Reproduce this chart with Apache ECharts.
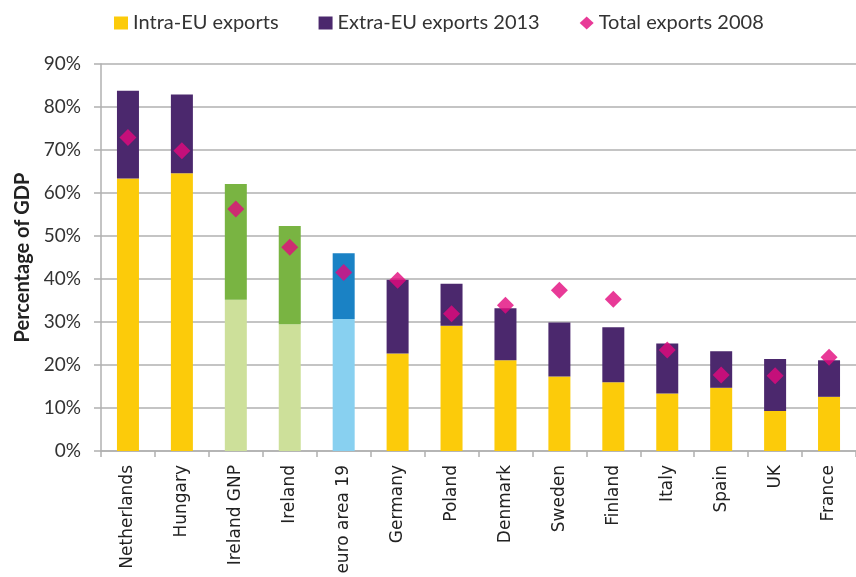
<!DOCTYPE html>
<html>
<head>
<meta charset="utf-8">
<script src="https://cdn.jsdelivr.net/npm/echarts@6/dist/echarts.min.js"></script>
<style>
  html, body { margin: 0; padding: 0; background: #fff; }
  #chart { width: 856px; height: 577px; }
</style>
</head>
<body>
<div id="chart"></div>
<script>
// values, % of GDP
const categories = ["Netherlands", "Hungary", "Ireland GNP", "Ireland", "euro area 19", "Germany", "Poland", "Denmark", "Sweden", "Finland", "Italy", "Spain", "UK", "France"];
const intraEU = [63.4, 64.6, 35.2, 29.5, 30.7, 22.7, 29.1, 21.1, 17.3, 16.0, 13.4, 14.7, 9.3, 12.6];
const extraEU = [20.4, 18.3, 26.9, 22.8, 15.3, 17.1, 9.8, 12.1, 12.6, 12.8, 11.6, 8.5, 12.1, 8.5];
const total2008 = [72.9, 69.8, 56.3, 47.4, 41.5, 39.7, 31.9, 33.9, 37.4, 35.3, 23.5, 17.7, 17.5, 21.8];
const yTicks = [0, 10, 20, 30, 40, 50, 60, 70, 80, 90];

// special colouring for the Irish and euro area bars
const intraColors = { "Ireland GNP": "#cde09a", "Ireland": "#cde09a", "euro area 19": "#88d0f0" };
const extraColors = { "Ireland GNP": "#79b442", "Ireland": "#79b442", "euro area 19": "#1a82c5" };

const gridColor = "#b0b0b0";
const myChart = echarts.init(document.getElementById("chart"));

const option = {
  animation: false,
  legend: {
    top: 8,
    left: 109,
    itemWidth: 14,
    itemHeight: 13,
    itemGap: 40,
    textStyle: { fontFamily: "Lato", fontSize: 20, color: "#333" },
    data: [
      { name: "Intra-EU exports", icon: "rect" },
      { name: "Extra-EU exports 2013", icon: "rect" },
      { name: "Total exports 2008", icon: "diamond" },
    ],
  },
  grid: { left: 101, right: -11, top: 64, bottom: 126 },
  xAxis: {
    type: "category",
    data: categories,
    axisLine: { lineStyle: { color: gridColor, width: 1.5 } },
    axisTick: { show: true, length: 6, lineStyle: { color: gridColor, width: 1.5 } },
    axisLabel: {
      rotate: 90,
      interval: 0,
      margin: 14,
      fontFamily: "DejaVu Sans",
      fontSize: 17,
      color: "#222",
    },
  },
  yAxis: {
    type: "value",
    min: 0,
    max: 90,
    interval: 10,
    name: "Percentage of GDP",
    nameLocation: "middle",
    nameGap: 68,
    nameTextStyle: { fontFamily: "Lato", fontSize: 20, fontWeight: "bold", color: "#222" },
    axisLine: { show: true, lineStyle: { color: gridColor, width: 1.5 } },
    axisTick: { show: true, length: 7, lineStyle: { color: gridColor, width: 1.5 } },
    axisLabel: {
      margin: 20,
      fontFamily: "Lato",
      fontSize: 19,
      color: "#333",
      formatter: (v) => (yTicks.includes(v) ? v + "%" : ""),
    },
    splitLine: { lineStyle: { color: gridColor, width: 1.5 } },
  },
  series: [
    {
      name: "Intra-EU exports",
      type: "bar",
      stack: "exp",
      barWidth: 22,
      itemStyle: { color: "#fccb0a" },
      data: intraEU.map((v, i) =>
        intraColors[categories[i]] ? { value: v, itemStyle: { color: intraColors[categories[i]] } } : v
      ),
    },
    {
      name: "Extra-EU exports 2013",
      type: "bar",
      stack: "exp",
      barWidth: 22,
      itemStyle: { color: "#4b286d" },
      data: extraEU.map((v, i) =>
        extraColors[categories[i]] ? { value: v, itemStyle: { color: extraColors[categories[i]] } } : v
      ),
    },
    {
      name: "Total exports 2008",
      type: "scatter",
      symbol: "diamond",
      symbolSize: 17,
      itemStyle: { color: "#e2097d" },
      z: 5,
      data: total2008,
    },
  ],
};

myChart.setOption(option);
</script>
</body>
</html>
